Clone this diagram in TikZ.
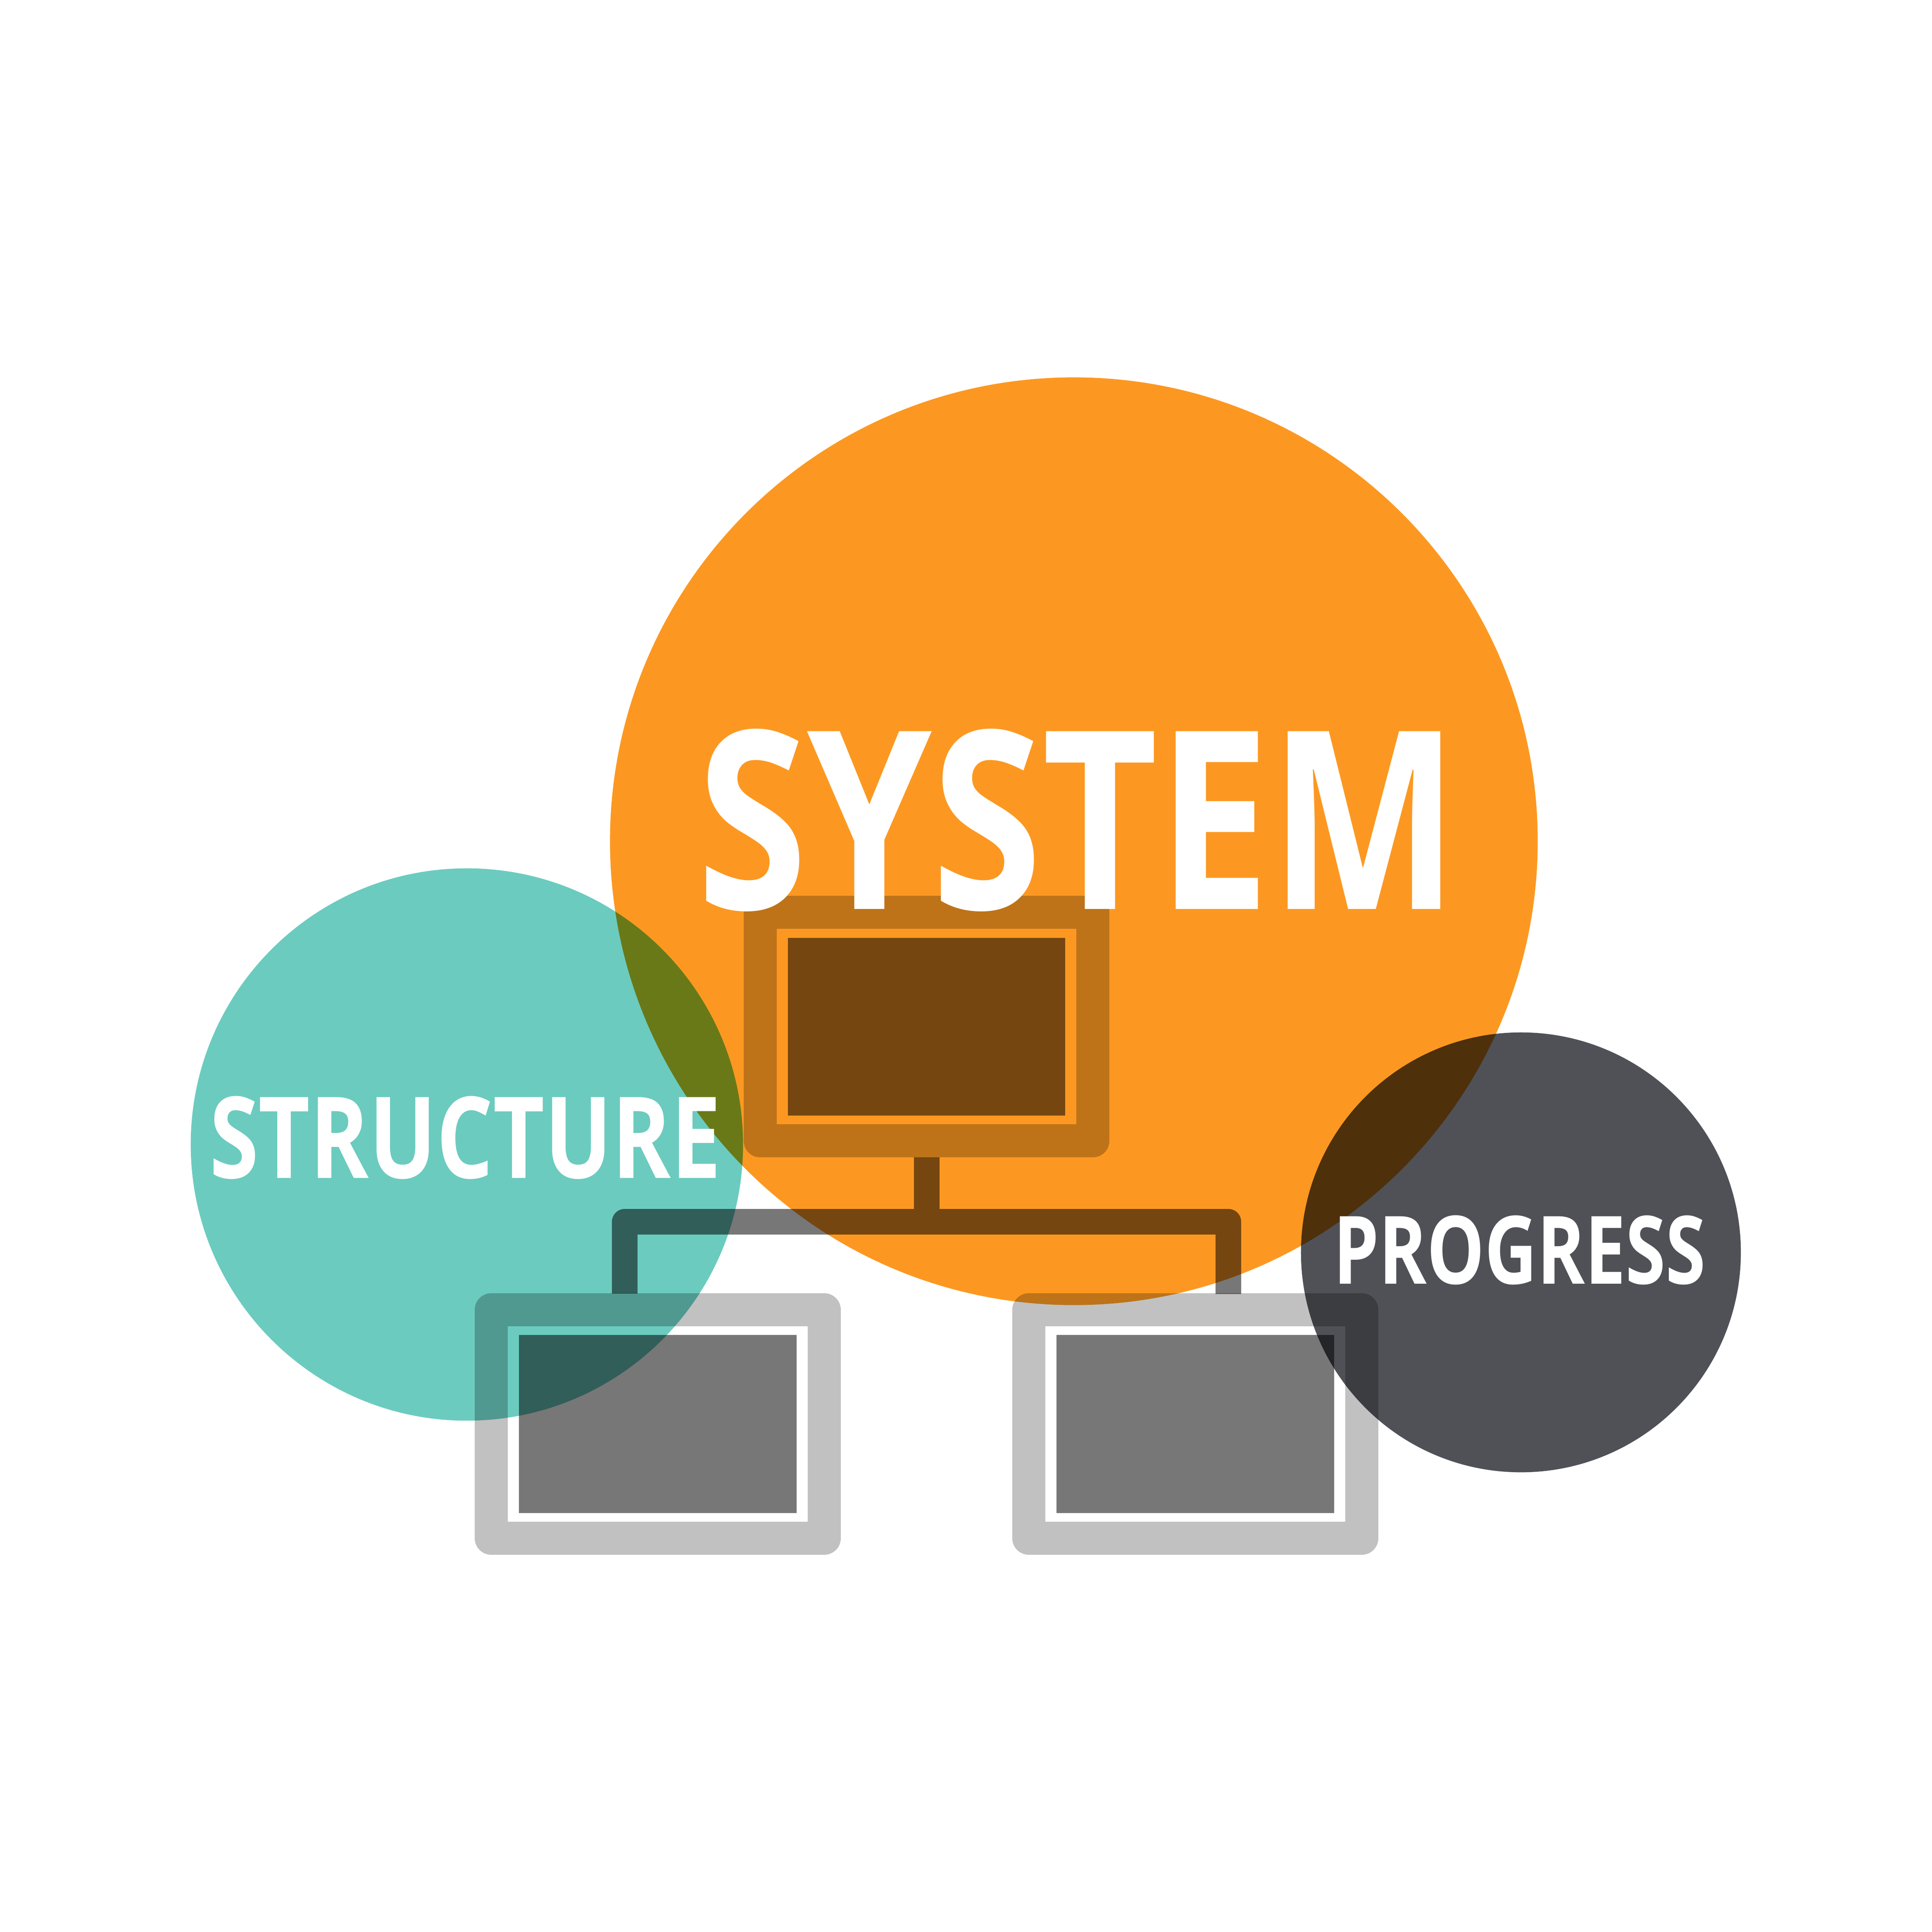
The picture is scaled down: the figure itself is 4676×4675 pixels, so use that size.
\documentclass[tikz,border=0pt]{standalone}
\usepackage{fontspec}
\usepackage{graphicx}
\setmainfont{Open Sans}
\definecolor{sysorange}{HTML}{FC9821}
\definecolor{structteal}{HTML}{6BCBBF}
\definecolor{progdark}{HTML}{4F5157}
\definecolor{framegray}{HTML}{C1C1C1}
\definecolor{screengray}{HTML}{777777}
\tikzset{
  bubble/.style={circle,inner sep=0pt,outer sep=0pt,draw=none},
  framebox/.style={rectangle,draw=framegray,line width=0.8cm,line join=round,inner sep=0pt,minimum width=8.05cm,minimum height=5.53cm},
  screenbox/.style={rectangle,fill=screengray,draw=none,inner sep=0pt,outer sep=0pt,minimum width=6.71cm,minimum height=4.30cm},
  link/.style={draw=screengray,line width=0.62cm,line join=round,line cap=butt},
  word/.style={text=white,inner sep=0pt,outer sep=0pt,anchor=south west,font=\bfseries}
}
\begin{document}
\begin{tikzpicture}[x=0.01cm,y=-0.01cm]
\useasboundingbox (0,0) rectangle (4676,4675);
\fill[white] (0,0) rectangle (4676,4675);
\begin{scope}[blend mode=multiply]
\node[bubble,fill=sysorange,minimum size=22.44cm] (system) at (2599,2036) {};
\node[bubble,fill=structteal,minimum size=13.36cm] (structure) at (1130,2770) {};
\node[bubble,fill=progdark,minimum size=10.64cm] (progress) at (3681,3031) {};
\node[framebox] (boxtop) at (2242.5,2484.75) {};
\node[framebox] (boxleft) at (1592,3446.5) {};
\node[framebox] (boxright) at (2893,3446.5) {};
\node[screenbox] (screentop) at (boxtop.center) {};
\node[screenbox] (screenleft) at (boxleft.center) {};
\node[screenbox] (screenright) at (boxright.center) {};
\coordinate (leftend) at (1512,3131);
\coordinate (rightend) at (2973,3132);
\coordinate (junction) at (2242.5,2957);
\draw[link] (leftend) -- (leftend |- junction) -- (rightend |- junction) -- (rightend)
  (boxtop.south) -- (junction);
\end{scope}
\node[word] (tsystem) at (1687,2206) {\resizebox*{18.41cm}{4.42cm}{SYSTEM}};
\node[word] (tstructure) at (507,2854) {\resizebox*{12.37cm}{2.01cm}{STRUCTURE}};
\node[word] (tprogress) at (3227,3110) {\resizebox*{9.00cm}{1.68cm}{PROGRESS}};
\end{tikzpicture}
\end{document}
